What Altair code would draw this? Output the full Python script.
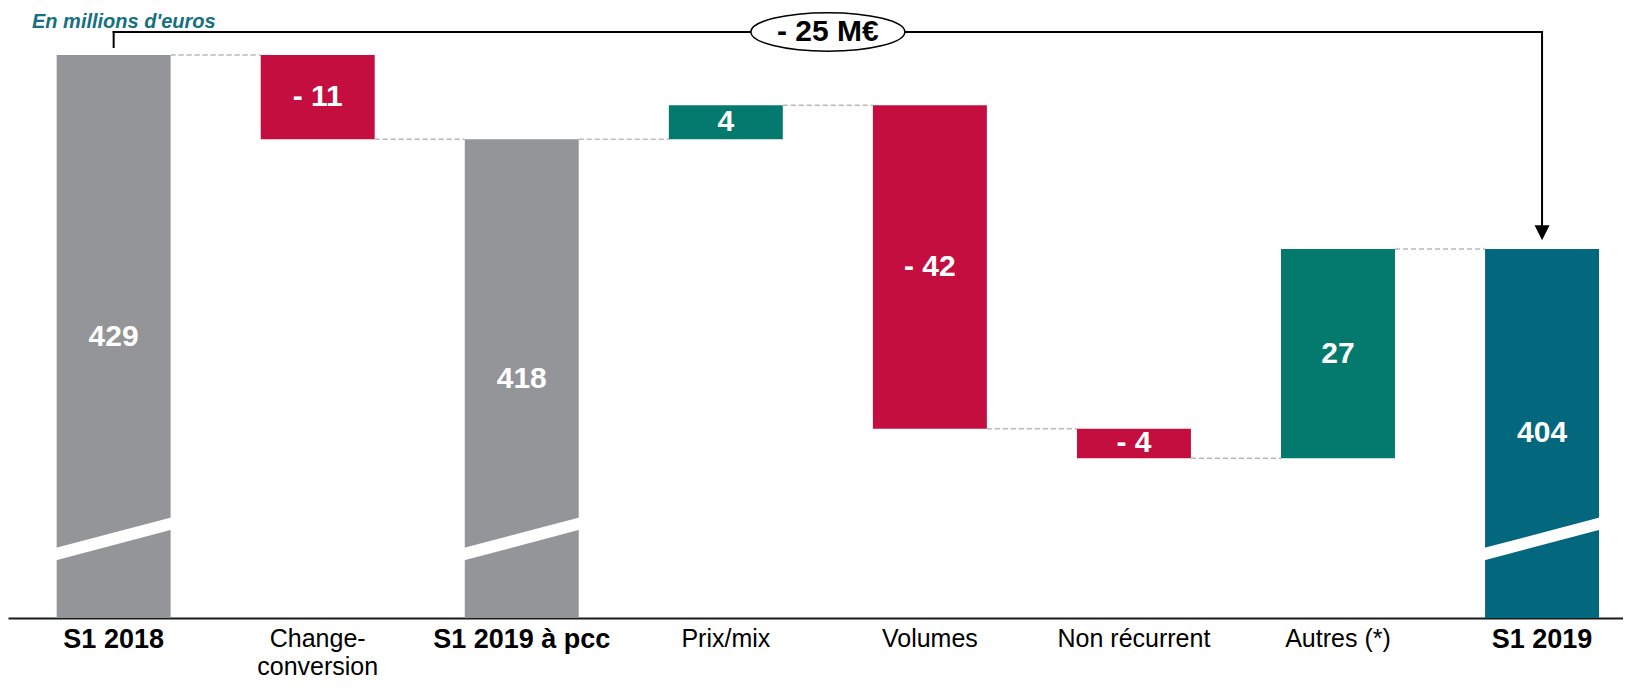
import altair as alt
import pandas as pd

# ---------------- data ----------------
CATEGORIES = ["S1 2018", "Change-conversion", "S1 2019 à pcc", "Prix/mix",
              "Volumes", "Non récurrent", "Autres (*)", "S1 2019"]
KINDS = ["total", "delta", "total", "delta", "delta", "delta", "delta", "total"]
VALUES = [428.9, -10.9, 418.0, 4.4, -41.9, -3.8, 27.1, 403.8]
LABELS = ["429", "- 11", "418", "4", "- 42", "- 4", "27", "404"]
BOLD_CATS = ["S1 2018", "S1 2019 à pcc", "S1 2019"]
TITLE = "En millions d'euros"
VARIATION_LABEL = "- 25 M€"

# axis break (value axis starts well above zero)
Y_MIN, Y_MAX = 356, 435
BREAK_LEFT, BREAK_RIGHT = 364.3, 368.2
BRACKET_Y, BRACKET_LEFT_END = 431.9, 429.95
ARROW_BASE, ARROW_CENTER = 406.9, 405.9

GRAY, RED, GREEN, TEAL = "#939598", "#C30E3F", "#047A6F", "#03677D"
FONT = "Liberation Sans"
PAD_INNER, PAD_OUTER, ALIGN = 0.4415, 0.178, 0.67

# ---------------- derived tables ----------------
rows = []
running = None
for i, (c, k, v, lab) in enumerate(zip(CATEGORIES, KINDS, VALUES, LABELS)):
    if k == "total":
        top, bottom = v, Y_MIN
        running = v
        color = TEAL if i == len(CATEGORIES) - 1 else GRAY
    else:
        bottom, top = running, running + v
        running = top
        color = GREEN if v > 0 else RED
    rows.append(dict(cat=c, top=top, bottom=bottom, mid=(top + bottom) / 2,
                     label=lab, color=color, level=running))
bars = pd.DataFrame(rows)

conn = pd.DataFrame([
    dict(cat=rows[i]["cat"], cat2=rows[i + 1]["cat"], level=rows[i]["level"])
    for i in range(len(rows) - 1)
])

breaks = pd.DataFrame([dict(cat=c, yl=BREAK_LEFT, yr=BREAK_RIGHT)
                       for c, k in zip(CATEGORIES, KINDS) if k == "total"])

first, last = CATEGORIES[0], CATEGORIES[-1]
vert = pd.DataFrame([
    dict(cat=first, y=BRACKET_Y, y2=BRACKET_LEFT_END),
    dict(cat=last, y=BRACKET_Y, y2=ARROW_BASE),
])
horiz = pd.DataFrame([dict(cat=first, cat2=last, y=BRACKET_Y)])
arrow = pd.DataFrame([dict(cat=last, y=ARROW_CENTER)])
badge = pd.DataFrame([dict(y=BRACKET_Y, t=VARIATION_LABEL)])
title_df = pd.DataFrame([dict(t=TITLE)])

# x position of the badge: midway between first and last bar centres
mid_x_expr = {"expr": "(scale('x', '%s') + scale('x', '%s')) / 2 + bandwidth('x') / 2" % (first, last)}

# ---------------- scales ----------------
xscale = alt.Scale(domain=CATEGORIES, paddingInner=PAD_INNER,
                   paddingOuter=PAD_OUTER, align=ALIGN)
yscale = alt.Scale(domain=[Y_MIN, Y_MAX], nice=False, zero=False)

bold_test = "indexof(" + str(BOLD_CATS) + ", datum.value) >= 0"

xaxis = alt.Axis(
    title=None, labelAngle=0, ticks=False, grid=False,
    domainColor="#1a1a1a", domainWidth=2,
    labelFont=FONT, labelColor="black", labelPadding=8,
    labelFontSize={"condition": {"test": bold_test, "value": 27}, "value": 25},
    labelFontWeight={"condition": {"test": bold_test, "value": "bold"}, "value": "normal"},
    labelLineHeight=28, labelLimit=400,
    labelExpr="datum.value == 'Change-conversion' ? ['Change-', 'conversion'] : datum.label",
)

bar_layer = alt.Chart(bars).mark_bar().encode(
    x=alt.X("cat:N", scale=xscale, sort=CATEGORIES, axis=xaxis),
    y=alt.Y("top:Q", scale=yscale, axis=None),
    y2="bottom:Q",
    color=alt.Color("color:N", scale=None),
)

break_layer = alt.Chart(breaks).mark_rule(color="white", strokeWidth=12, strokeCap="square").encode(
    x=alt.X("cat:N", bandPosition=0),
    x2=alt.X2("cat:N", bandPosition=1),
    y=alt.Y("yl:Q"),
    y2="yr:Q",
)

conn_layer = alt.Chart(conn).mark_rule(color="#b8b8b8", strokeWidth=1.5, strokeDash=[5, 3]).encode(
    x=alt.X("cat:N", bandPosition=1),
    x2=alt.X2("cat2:N", bandPosition=0),
    y=alt.Y("level:Q"),
)

label_layer = alt.Chart(bars).mark_text(
    color="white", fontWeight="bold", fontSize=30, font=FONT, baseline="middle"
).encode(
    x=alt.X("cat:N"),
    y=alt.Y("mid:Q"),
    text="label:N",
)

vert_layer = alt.Chart(vert).mark_rule(color="black", strokeWidth=2, strokeCap="square").encode(
    x=alt.X("cat:N", bandPosition=0.5),
    y=alt.Y("y:Q"),
    y2="y2:Q",
)
horiz_layer = alt.Chart(horiz).mark_rule(color="black", strokeWidth=2, strokeCap="square").encode(
    x=alt.X("cat:N", bandPosition=0.5),
    x2=alt.X2("cat2:N", bandPosition=0.5),
    y=alt.Y("y:Q"),
)
arrow_layer = alt.Chart(arrow).mark_point(
    shape="M-1,-1L1,-1L0,1Z", size=225, filled=True, color="black", opacity=1
).encode(
    x=alt.X("cat:N", bandPosition=0.5),
    y=alt.Y("y:Q"),
)
ellipse_layer = alt.Chart(badge).mark_point(
    shape="M-1,0A1,0.25 0 1,1 1,0A1,0.25 0 1,1 -1,0Z", size=23716,
    filled=True, fill="white", stroke="black", strokeWidth=1.5, opacity=1
).encode(
    x=alt.value(mid_x_expr),
    y=alt.Y("y:Q"),
)
badge_text = alt.Chart(badge).mark_text(
    fontWeight="bold", fontSize=30, font=FONT, color="black", baseline="middle"
).encode(
    x=alt.value(mid_x_expr),
    y=alt.Y("y:Q"),
    text="t:N",
)
title_layer = alt.Chart(title_df).mark_text(
    fontWeight="bold", fontStyle="italic", fontSize=20, font=FONT,
    color="#16707F", align="left", baseline="alphabetic"
).encode(
    x=alt.value(24), y=alt.value(20), text="t:N",
)

chart = alt.layer(
    bar_layer, break_layer, conn_layer, label_layer,
    vert_layer, horiz_layer, arrow_layer, ellipse_layer, badge_text, title_layer,
).properties(
    width=1615, height=610,
    padding={"left": 0, "right": 0, "top": 0, "bottom": 62},
    autosize=alt.AutoSizeParams(type="none"),
).configure_view(stroke=None)

chart.save("out.html", embed_options={"renderer": "svg", "actions": False})
